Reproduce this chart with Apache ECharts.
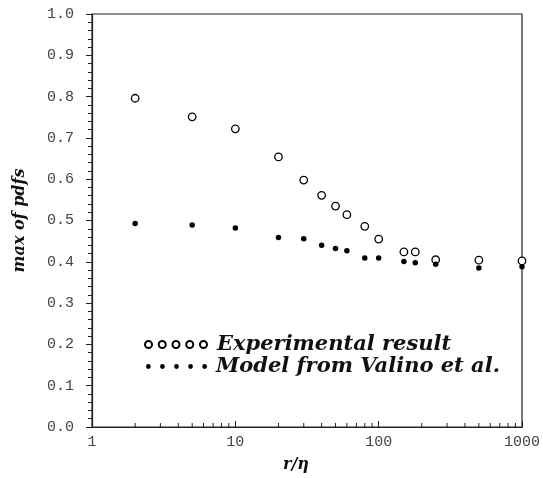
<!DOCTYPE html>
<html>
<head>
<meta charset="utf-8">
<script src="https://cdn.jsdelivr.net/npm/echarts@6/dist/echarts.min.js"></script>
<style>html,body{margin:0;padding:0;background:#fff}#c{width:543px;height:478px}</style>
</head>
<body>
<div id="c"></div>
<script>
// r/eta positions
var rEta = [2, 5, 10, 20, 30, 40, 50, 60, 80, 100, 150, 180, 250, 500, 1000];
// Experimental result
var experimental = [0.796, 0.751, 0.722, 0.654, 0.598, 0.561, 0.535, 0.514, 0.486, 0.455, 0.424, 0.424, 0.405, 0.404, 0.402];
// Model from Valino et al.
var model = [0.493, 0.489, 0.482, 0.459, 0.456, 0.440, 0.432, 0.427, 0.409, 0.409, 0.401, 0.398, 0.394, 0.385, 0.388];
// log-axis minor tick positions
var xMinorTicks = [2,3,4,5,6,7,8,9,20,30,40,50,60,70,80,90,200,300,400,500,600,700,800,900];

function pair(xs, ys){ return xs.map(function(x,i){return [x, ys[i]];}); }

function circlesPath(n, r, step){
  var p = '';
  for (var i=0;i<n;i++){
    var cx = r + i*step;
    p += 'M' + (cx - r) + ',' + r + ' a' + r + ',' + r + ' 0 1,0 ' + (2*r) + ',0 a' + r + ',' + r + ' 0 1,0 ' + (-2*r) + ',0 Z ';
  }
  return 'path://' + p;
}

var chart = echarts.init(document.getElementById('c'), null, {renderer:'canvas'});
var legendFont = {fontFamily:'DejaVu Serif', fontStyle:'italic', fontWeight:'bold', fontSize:21, color:'#111'};
var option = {
  animation:false,
  backgroundColor:'#fff',
  grid:{left:92, right:20, top:14, bottom:37, show:true, borderColor:'#222', borderWidth:1.2, backgroundColor:'transparent'},
  legend:[
    {data:[{name:'Experimental result', icon:circlesPath(5,3.5,13.75)}], left:144, top:334, padding:0,
     itemWidth:62, itemHeight:7, textStyle:Object.assign({padding:[0,0,0,5]}, legendFont), selectedMode:false},
    {data:[{name:'Model from Valino et al.', icon:circlesPath(5,2.4,14.1)}], left:146, top:356, padding:0,
     itemWidth:61, itemHeight:4.8, textStyle:Object.assign({padding:[0,0,0,4]}, legendFont), selectedMode:false}
  ],
  xAxis:{
    type:'log', logBase:10, min:1, max:1000,
    name:'r/\u03b7', nameLocation:'middle', nameGap:30,
    nameTextStyle:{fontFamily:'DejaVu Serif', fontStyle:'italic', fontWeight:'bold', fontSize:16, color:'#111', padding:[0,22,0,0]},
    axisLine:{lineStyle:{color:'#222', width:1.2}},
    axisTick:{inside:true, length:6, lineStyle:{color:'#222'}},
    axisLabel:{margin:8, fontFamily:'Liberation Mono', fontSize:15, color:'#444', formatter:function(v){return String(Math.round(v));}},
    splitLine:{show:false}
  },
  yAxis:{
    type:'value', min:0, max:1, interval:0.1,
    name:'max of pdfs', nameLocation:'middle', nameGap:64, nameRotate:90,
    nameTextStyle:{fontFamily:'DejaVu Serif', fontStyle:'italic', fontWeight:'bold', fontSize:16, color:'#111'},
    axisLine:{lineStyle:{color:'#222', width:1.2}},
    axisTick:{inside:false, length:6, lineStyle:{color:'#222'}},
    minorTick:{show:true, splitNumber:5, length:4, lineStyle:{color:'#222'}},
    axisLabel:{margin:18, fontFamily:'Liberation Mono', fontSize:15, color:'#444', formatter:function(v){return v.toFixed(1);}},
    splitLine:{show:false}
  },
  series:[
    {name:'Experimental result', type:'scatter', data:pair(rEta, experimental), symbol:'circle', symbolSize:7.5,
     itemStyle:{color:'#fff', borderColor:'#000', borderWidth:1.3, opacity:1}, z:3},
    {name:'Model from Valino et al.', type:'scatter', data:pair(rEta, model), symbol:'circle', symbolSize:5.5,
     itemStyle:{color:'#000', opacity:1}, z:4},
    {name:'xminor', type:'custom', data:xMinorTicks.map(function(v){return [v,0];}), silent:true, z:5,
     renderItem:function(params, api){
       var p = api.coord([api.value(0), 0]);
       return {type:'line', shape:{x1:p[0], y1:p[1], x2:p[0], y2:p[1]-4}, style:{stroke:'#222', lineWidth:1}};
     }}
  ]
};
chart.setOption(option);
</script>
</body>
</html>
